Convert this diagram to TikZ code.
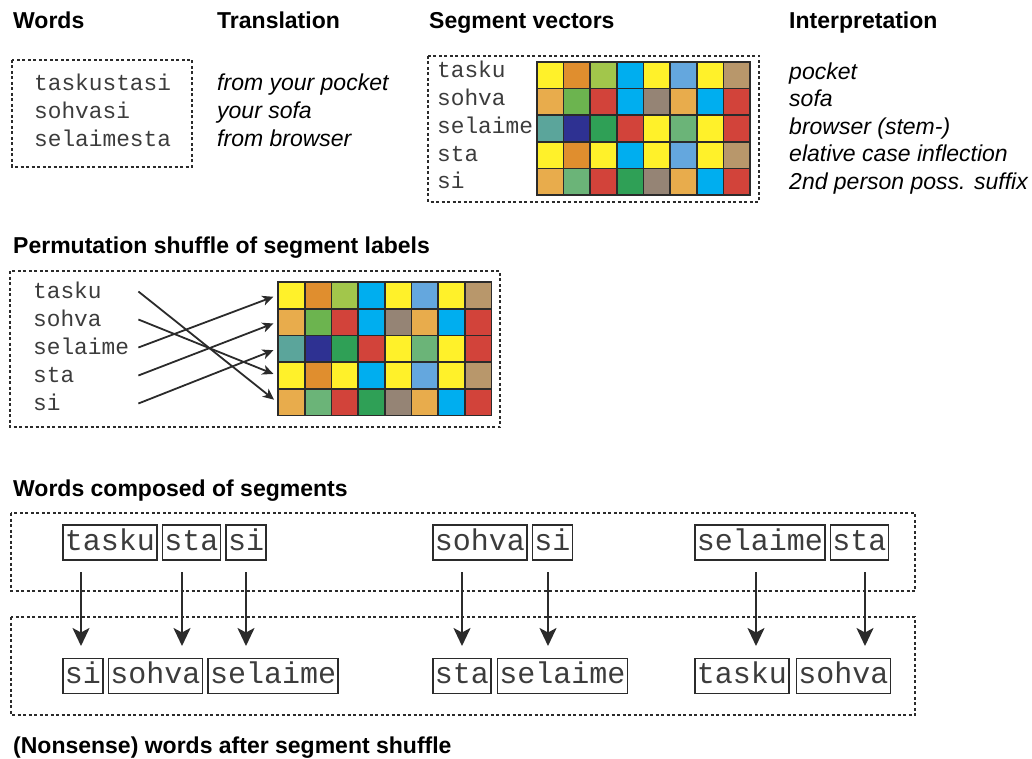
\documentclass[tikz,border=0pt]{standalone}
\usepackage{fontspec}
\setmainfont{Liberation Sans}
\setmonofont{Liberation Mono}
\usetikzlibrary{arrows.meta,positioning}

% palette of the segment vectors
\definecolor{cY}{HTML}{FFF12A}
\definecolor{cO}{HTML}{E08E2E}
\definecolor{cYG}{HTML}{A2C64B}
\definecolor{cC}{HTML}{00AEEF}
\definecolor{cLB}{HTML}{64A7DE}
\definecolor{cT}{HTML}{B8976B}
\definecolor{cLO}{HTML}{E8AC4C}
\definecolor{cG}{HTML}{6CB44F}
\definecolor{cR}{HTML}{D2433A}
\definecolor{cGB}{HTML}{958475}
\definecolor{cTE}{HTML}{5BA59B}
\definecolor{cN}{HTML}{2E3192}
\definecolor{cDG}{HTML}{2FA056}
\definecolor{cMG}{HTML}{6BB478}
\definecolor{cEdge}{HTML}{2B2B2B}
\definecolor{cMono}{HTML}{3C3C3C}

\tikzset{
  head/.style={font=\fontsize{23}{27}\selectfont\bfseries, inner sep=0pt, anchor=base west},
  gloss/.style={font=\fontsize{23}{27}\selectfont\itshape, inner sep=0pt, anchor=base west},
  mono/.style={font=\fontsize{22.8}{27}\selectfont\ttfamily, text=cMono, inner sep=0pt, anchor=base west},
  permlabel/.style={mono, text width=105pt, align=left, text height=13pt, text depth=0pt},
  frame/.style={draw=cEdge, line width=1.6pt, dash pattern=on 3pt off 2.5pt},
  cell/.style={draw=cEdge, line width=1.7pt, minimum size=26.7pt, inner sep=0pt, anchor=center},
  seg/.style={draw=cEdge, line width=1.6pt, font=\fontsize{30}{34}\selectfont\ttfamily, text=cMono,
    inner xsep=2pt, inner ysep=0pt, minimum height=35pt, text height=21pt, text depth=6pt},
  permarrow/.style={draw=cEdge, line width=1.8pt,
    -{Stealth[length=11pt,width=10pt,inset=3pt]}, shorten >=4pt},
  droparrow/.style={draw=cEdge, line width=2.2pt,
    -{Stealth[length=18pt,width=17pt,inset=4.5pt]}},
}

% 5 x 8 grid of coloured cells, named #1-row-col, top left corner at (#2,#3)
\newcommand{\colorgrid}[3]{%
  \foreach \rowcols [count=\r] in {%
    {cY,cO,cYG,cC,cY,cLB,cY,cT},%
    {cLO,cG,cR,cC,cGB,cLO,cC,cR},%
    {cTE,cN,cDG,cR,cY,cMG,cY,cR},%
    {cY,cO,cY,cC,cY,cLB,cY,cT},%
    {cLO,cMG,cR,cDG,cGB,cLO,cC,cR}} {%
    \foreach \cc [count=\c] in \rowcols {%
      \node[cell, fill=\cc] (#1-\r-\c) at ({#2+(\c-0.5)*26.7},{#3+(\r-0.5)*26.7}) {};
    }%
  }%
}

\begin{document}
\begin{tikzpicture}[x=1pt, y=-1pt]
\useasboundingbox (0,0) rectangle (1032,759);

% ---------- headings of the top row ----------
\node[head] (hwords) at (13,29) {Words};
\node[head] (htrans) at (217,29) {Translation};
\node[head] (hseg) at (429,29) {Segment vectors};
\node[head] (hint) at (789,29) {Interpretation};

% ---------- words and their translations ----------
\draw[frame] (12,60) rectangle (192,167);
\node[mono] (w1) at (34,91) {taskustasi};
\node[mono] (w2) at (34,119) {sohvasi};
\node[mono] (w3) at (34,147) {selaimesta};
\node[gloss] (tr1) at (217,91) {from your pocket};
\node[gloss] (tr2) at (217,119) {your sofa};
\node[gloss] (tr3) at (217,147) {from browser};

% ---------- segment vectors ----------
\draw[frame] (428,56) rectangle (759,202);
\node[mono] (s1) at (437,78) {tasku};
\node[mono] (s2) at (437,106) {sohva};
\node[mono] (s3) at (437,134) {selaime};
\node[mono] (s4) at (437,162) {sta};
\node[mono] (s5) at (437,189) {si};
\colorgrid{sv}{536.7}{61.7}

\node[gloss] (i1) at (789,80) {pocket};
\node[gloss] (i2) at (789,107) {sofa};
\node[gloss] (i3) at (789,135) {browser (stem-)};
\node[gloss] (i4) at (789,162) {elative case inflection};
\node[gloss] (i5) at (789,190) {2nd person poss. suffix};

% ---------- permutation of the labels ----------
\node[head] (hperm) at (13,253) {Permutation shuffle of segment labels};
\draw[frame] (10,271) rectangle (500,427);
\node[permlabel] (p1) at (33,298) {tasku};
\node[permlabel] (p2) at (33,326) {sohva};
\node[permlabel] (p3) at (33,354) {selaime};
\node[permlabel] (p4) at (33,382) {sta};
\node[permlabel] (p5) at (33,410) {si};
\colorgrid{pv}{278}{282}

\draw[permarrow] (p1.east) -- (pv-5-1.west);
\draw[permarrow] (p2.east) -- (pv-4-1.west);
\draw[permarrow] (p3.east) -- (pv-1-1.west);
\draw[permarrow] (p4.east) -- (pv-2-1.west);
\draw[permarrow] (p5.east) -- (pv-3-1.west);

% ---------- words built from segments ----------
\node[head] (hcomp) at (13,496) {Words composed of segments};
\draw[frame] (11,513) rectangle (915,591);

\node[seg, anchor=west] (a1) at (62,542.5) {tasku};
\node[seg, right=4pt of a1] (a2) {sta};
\node[seg, right=4pt of a2] (a3) {si};
\node[seg, anchor=west] (b1) at (432,542.5) {sohva};
\node[seg, right=4pt of b1] (b2) {si};
\node[seg, anchor=west] (c1) at (694,542.5) {selaime};
\node[seg, right=4pt of c1] (c2) {sta};

% ---------- shuffled words ----------
\draw[frame] (11,617) rectangle (915,715);
\node[seg, anchor=west] (x1) at (62,676) {si};
\node[seg, right=4pt of x1] (x2) {sohva};
\node[seg, right=4pt of x2] (x3) {selaime};
\node[seg, anchor=west] (y1) at (432,676) {sta};
\node[seg, right=5pt of y1] (y2) {selaime};
\node[seg, anchor=west] (z1) at (694,676) {tasku};
\node[seg, right=6pt of z1] (z2) {sohva};

\foreach \xx [count=\i] in {81,182,246,462,548,756,865} {
  \coordinate (drop\i-top) at (\xx,572);
  \coordinate (drop\i-tip) at (\xx,646);
  \draw[droparrow] (drop\i-top) -- (drop\i-tip);
}

\node[head] (hnon) at (13,753) {(Nonsense) words after segment shuffle};
\end{tikzpicture}
\end{document}
